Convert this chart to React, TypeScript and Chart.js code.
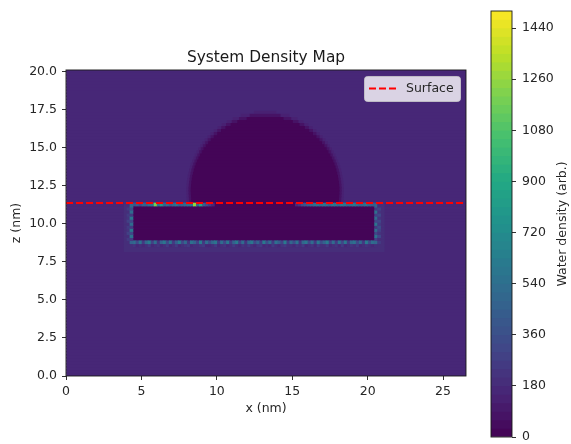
import React, { useEffect, useRef } from "react";
import { Chart, registerables } from "chart.js";

Chart.register(...registerables);
Chart.defaults.font.family = "'DejaVu Sans'";
Chart.defaults.color = "#262626";

const xLimit = 26.52;
const zLimit = 20.13;
const cellSize = 0.2;
const surfaceZ = 11.38;
const xTickStep = 5;
const zTickStep = 2.5;
const colorMax = 1500;
const colorTickStep = 180;
const legendLabel = "Surface";
const chartTitle = "System Density Map";
const xTitle = "x (nm)";
const zTitle = "z (nm)";
const colorTitle = "Water density (arb.)";

const colorLevels = [
  0, 30, 60, 90, 120, 150, 180, 210, 240, 270, 300, 330, 360, 390, 420, 450, 480, 510, 540, 570, 600, 630, 660, 690,
  720, 750, 780, 810, 840, 870, 900, 930, 960, 990, 1020, 1050, 1080, 1110, 1140, 1170, 1200, 1230, 1260, 1290, 1320,
  1350, 1380, 1410, 1440, 1470, 1500,
];

const viridisStops = [
  "#440154", "#482475", "#414487", "#355f8d", "#2a788e", "#21918c", "#22a884", "#44bf70", "#7ad151", "#bddf26", "#fde725",
];

// Bulk water, one value per z row from z = 0 upward.
const bulkRows = [
  155, 155, 155, 155, 155, 155, 155, 155, 155, 155, 155, 155, 155, 155, 155, 155, 155, 155, 155, 155, 155, 155, 155,
  155, 155, 155, 155, 155, 155, 155, 155, 155, 155, 155, 155, 155, 155, 155, 155, 155, 155, 155, 155, 155, 155, 155,
  155, 155, 155, 155, 155, 155, 155, 155, 155, 155, 155, 155, 155, 155, 155, 155, 155, 155, 155, 155, 155, 155, 155,
  155, 155, 155, 155, 155, 155, 155, 155, 155, 155, 155, 155, 155, 155, 155, 155, 155, 155, 155, 155, 155, 155, 155,
  155, 155, 155, 155, 155, 155, 155, 155, 155,
];

// Layer of water next to the slab.
const haloRows = [8.3, 8.5, 8.7, 8.9, 9.1, 9.3, 9.5, 9.7, 9.9, 10.1, 10.3, 10.5, 10.7, 10.9, 11.1, 11.3];
const haloFrom = 3.85;
const haloTo = 21.1;
const haloDensity = 185;

// Vapour bubble: half widths of the shells, one per z row from dropletFirstRow upward.
const dropletCentre = 13.2;
const dropletFirstRow = 11.1;
const dropletOuter = [
  5.09, 5.13, 5.16, 5.18, 5.19, 5.2, 5.2, 5.19, 5.17, 5.15, 5.11, 5.07, 5.02, 4.96, 4.9, 4.82, 4.73, 4.64, 4.53, 4.41,
  4.28, 4.14, 3.98, 3.8, 3.6, 3.38, 3.13, 2.85, 2.52, 2.12, 1.59, 0.72,
];
const dropletMiddle = [
  4.94, 4.98, 5.01, 5.03, 5.04, 5.05, 5.05, 5.04, 5.02, 4.99, 4.96, 4.92, 4.87, 4.81, 4.74, 4.66, 4.57, 4.47, 4.36,
  4.24, 4.1, 3.95, 3.78, 3.59, 3.38, 3.15, 2.88, 2.57, 2.19, 1.71, 1.0,
];
const dropletCore = [
  4.79, 4.83, 4.86, 4.88, 4.89, 4.9, 4.9, 4.89, 4.87, 4.84, 4.81, 4.76, 4.71, 4.65, 4.58, 4.5, 4.4, 4.3, 4.18, 4.06,
  3.91, 3.75, 3.58, 3.38, 3.15, 2.9, 2.61, 2.26, 1.82, 1.2,
];
const dropletOuterDensity = 125;
const dropletMiddleDensity = 80;
const dropletCoreDensity = 0;

// Solid slab.
const slabRows = [9.0, 9.2, 9.4, 9.6, 9.8, 10.0, 10.2, 10.4, 10.6, 10.8, 11.0, 11.13];
const slabFrom = 4.44;
const slabTo = 20.46;

// Adsorbed water cells round the slab.
const topRowZ = 11.28;
const topLeftFrom = 4.44;
const topLeft = [
  360, 430, 300, 470, 420, 520, 560, 1180, 540, 780, 470, 520, 400, 480, 540, 420, 470, 500, 520, 560, 1240, 500, 880,
  420, 340, 250, 170,
];
const topRightFrom = 15.2;
const topRight = [
  170, 230, 330, 380, 430, 470, 510, 540, 480, 560, 520, 470, 570, 540, 500, 620, 560, 480, 520, 570, 530, 470, 500,
  540, 470, 430, 390,
];
const bottomFrom = 4.44;
const bottomInnerZ = 8.8;
const bottomInner = [
  520, 300, 560, 240, 480, 620, 280, 520, 220, 460, 580, 300, 540, 260, 440, 600, 320, 500, 230, 560, 470, 280, 610,
  250, 520, 340, 480, 590, 240, 510, 300, 570, 260, 450, 620, 290, 530, 230, 490, 580, 310, 470, 250, 600, 330, 520,
  240, 560, 440, 290, 610, 260, 500, 340, 550, 230, 480, 590, 300, 520, 250, 570, 330, 460, 610, 280, 510, 240, 540,
  320, 590, 260, 480, 560, 300, 500, 240, 600, 350, 520, 460,
];
const bottomOuterZ = 8.6;
const bottomOuter = [
  220, 170, 200, 165, 190, 240, 170, 195, 230, 165, 185, 250, 170, 200, 255, 165, 180, 220, 240, 170, 195, 180, 230,
  255, 170, 165, 200, 240, 170, 190, 220, 165, 185, 250, 200, 170, 210, 180, 240, 195, 165, 220, 255, 170, 195, 170,
  240, 190, 165, 220, 250, 180, 200, 170, 220, 185, 255, 170, 190, 220, 165, 240, 185, 200, 250, 170, 195, 220, 170,
  240, 165, 195, 220, 180, 250, 170, 190, 230, 180, 165, 200,
];
const sideRows = [8.8, 9.0, 9.2, 9.4, 9.6, 9.8, 10.0, 10.2, 10.4, 10.6, 10.8, 11.0, 11.2];
const leftOuterX = 4.04;
const leftOuter = [190, 240, 200, 270, 210, 250, 190, 280, 220, 260, 200, 240, 190];
const leftInnerX = 4.24;
const leftInner = [470, 260, 560, 300, 590, 250, 520, 310, 570, 240, 510, 330, 480];
const rightInnerX = 20.46;
const rightInner = [490, 280, 560, 310, 510, 250, 590, 320, 530, 290, 550, 260, 460];
const rightOuterX = 20.66;
const rightOuter = [260, 200, 310, 230, 280, 340, 240, 300, 210, 320, 230, 280, 200];

function hexToRgb(h: string) {
  return [parseInt(h.slice(1, 3), 16), parseInt(h.slice(3, 5), 16), parseInt(h.slice(5, 7), 16)];
}

function viridis(t: number) {
  const p = Math.max(0, Math.min(1, t)) * (viridisStops.length - 1);
  const i = Math.min(Math.floor(p), viridisStops.length - 2);
  const a = hexToRgb(viridisStops[i]);
  const b = hexToRgb(viridisStops[i + 1]);
  const f = p - i;
  return `rgb(${a.map((c, k) => Math.round(c + (b[k] - c) * f)).join(",")})`;
}

function bandColor(v: number) {
  const step = colorLevels[1] - colorLevels[0];
  const lower = Math.min(Math.floor(v / step), colorLevels.length - 2);
  return viridis((lower + 0.5) / (colorLevels.length - 1));
}

type Cell = { x: [number, number]; y: number; v: number };

function buildFieldCells(): Cell[] {
  const cells: Cell[] = [];
  const half = cellSize / 2;
  bulkRows.forEach((v, i) => cells.push({ x: [0, xLimit], y: i * cellSize + half, v }));
  haloRows.forEach((y) => cells.push({ x: [haloFrom, haloTo], y, v: haloDensity }));
  const shell = (widths: number[], v: number) =>
    widths.forEach((w, i) =>
      cells.push({ x: [dropletCentre - w, dropletCentre + w], y: dropletFirstRow + i * cellSize, v })
    );
  shell(dropletOuter, dropletOuterDensity);
  shell(dropletMiddle, dropletMiddleDensity);
  shell(dropletCore, dropletCoreDensity);
  return cells;
}

function buildSlabCells(): Cell[] {
  const cells: Cell[] = [];
  slabRows.forEach((y) => cells.push({ x: [slabFrom, slabTo], y, v: 0 }));
  const hRun = (vals: number[], from: number, y: number) =>
    vals.forEach((v, i) => cells.push({ x: [from + i * cellSize, from + (i + 1) * cellSize], y, v }));
  const vRun = (vals: number[], x: number) =>
    vals.forEach((v, i) => cells.push({ x: [x, x + cellSize], y: sideRows[i], v }));
  hRun(bottomOuter, bottomFrom, bottomOuterZ);
  hRun(bottomInner, bottomFrom, bottomInnerZ);
  hRun(topLeft, topLeftFrom, topRowZ);
  hRun(topRight, topRightFrom, topRowZ);
  vRun(leftOuter, leftOuterX);
  vRun(leftInner, leftInnerX);
  vRun(rightInner, rightInnerX);
  vRun(rightOuter, rightOuterX);
  return cells;
}

const framePlugin = {
  id: "frame",
  afterDatasetsDraw(chart: any) {
    const { ctx, chartArea: a } = chart;
    ctx.save();
    ctx.strokeStyle = "#1a1a1a";
    ctx.lineWidth = 0.9;
    ctx.strokeRect(a.left, a.top, a.right - a.left, a.bottom - a.top);
    ctx.restore();
  },
};

const legendPlugin = {
  id: "insetLegend",
  afterDatasetsDraw(chart: any) {
    const { ctx, chartArea: a } = chart;
    const w = 96;
    const h = 25;
    const x = a.right - 6 - w;
    const y = a.top + 6;
    ctx.save();
    ctx.beginPath();
    ctx.roundRect(x + 0.5, y + 0.5, w, h, 3);
    ctx.fillStyle = "rgba(255,255,255,0.8)";
    ctx.fill();
    ctx.strokeStyle = "rgba(204,204,204,0.8)";
    ctx.lineWidth = 1;
    ctx.stroke();
    ctx.beginPath();
    ctx.setLineDash([7, 3]);
    ctx.strokeStyle = "#ff0000";
    ctx.lineWidth = 1.85;
    ctx.moveTo(x + 5, y + 12.5);
    ctx.lineTo(x + 32, y + 12.5);
    ctx.stroke();
    ctx.setLineDash([]);
    ctx.fillStyle = "#262626";
    ctx.font = "12.5px 'DejaVu Sans'";
    ctx.textBaseline = "middle";
    ctx.textAlign = "left";
    ctx.fillText(legendLabel, x + 42, y + 12.5);
    ctx.restore();
  },
};

const colorTitlePlugin = {
  id: "colorTitle",
  afterDraw(chart: any) {
    const { ctx, chartArea: a } = chart;
    ctx.save();
    ctx.translate(563, (a.top + a.bottom) / 2);
    ctx.rotate(-Math.PI / 2);
    ctx.font = "12.5px 'DejaVu Sans'";
    ctx.fillStyle = "#262626";
    ctx.textAlign = "center";
    ctx.textBaseline = "middle";
    ctx.fillText(colorTitle, 0, 0);
    ctx.restore();
  },
};

const tickFont = { size: 12.5 };
const axisGrid = { drawOnChartArea: false, drawTicks: true, tickLength: 4, tickColor: "#1a1a1a", tickWidth: 0.9, offset: false };

export default function App() {
  const mainRef = useRef<HTMLCanvasElement>(null);
  const barRef = useRef<HTMLCanvasElement>(null);

  useEffect(() => {
    const fieldCells = buildFieldCells();
    const slabCells = buildSlabCells();
    const main = new Chart(mainRef.current!, {
      type: "bar",
      data: {
        datasets: [
          {
            type: "line",
            label: legendLabel,
            order: 0,
            data: [
              { x: 0, y: surfaceZ },
              { x: xLimit, y: surfaceZ },
            ],
            borderColor: "#ff0000",
            borderWidth: 1.85,
            borderDash: [7, 3],
            pointRadius: 0,
          } as any,
          {
            type: "bar",
            label: "Slab shell",
            order: 1,
            indexAxis: "y",
            grouped: false,
            barThickness: 3.04,
            borderWidth: 0,
            data: slabCells as any,
            backgroundColor: slabCells.map((c) => bandColor(c.v)),
          } as any,
          {
            type: "bar",
            label: "Density",
            order: 2,
            indexAxis: "y",
            grouped: false,
            barThickness: 3.7,
            borderWidth: 0,
            data: fieldCells as any,
            backgroundColor: fieldCells.map((c) => bandColor(c.v)),
          } as any,
        ],
      },
      options: {
        animation: false,
        responsive: false,
        layout: { padding: { right: 105, left: 0, top: 0, bottom: 0 } },
        plugins: {
          legend: { display: false },
          tooltip: { enabled: false },
          title: {
            display: true,
            text: chartTitle,
            fullSize: false,
            color: "#1a1a1a",
            font: { size: 15.4, weight: "normal" },
            padding: { top: 48.8, bottom: 2.7 },
          },
        },
        scales: {
          x: {
            type: "linear",
            min: 0,
            max: xLimit,
            offset: false,
            grid: axisGrid,
            border: { display: false },
            ticks: { stepSize: xTickStep, includeBounds: false, font: tickFont, maxRotation: 0, padding: 4 },
            title: { display: true, text: xTitle, font: tickFont, padding: { top: 0, bottom: 28 } },
            afterFit(s: any) {
              s.height = 68;
            },
          },
          y: {
            type: "linear",
            min: 0,
            max: zLimit,
            offset: false,
            grid: axisGrid,
            border: { display: false },
            ticks: {
              stepSize: zTickStep,
              includeBounds: false,
              font: tickFont,
              padding: 5,
              callback: (v: any) => Number(v).toFixed(1),
            },
            title: { display: true, text: zTitle, font: tickFont, padding: { top: 9, bottom: 0 } },
            afterFit(s: any) {
              s.width = 66;
            },
          },
        },
      } as any,
      plugins: [framePlugin, legendPlugin],
    });

    const levelCells = colorLevels.slice(0, -1).map((lo, i) => ({ x: 0.5, y: [lo, colorLevels[i + 1] + 1] }));
    const bar = new Chart(barRef.current!, {
      type: "bar",
      data: {
        datasets: [
          {
            label: colorTitle,
            data: levelCells as any,
            grouped: false,
            barThickness: 21,
            borderWidth: 0,
            backgroundColor: levelCells.map((c) => bandColor(c.y[0])),
          } as any,
        ],
      },
      options: {
        animation: false,
        responsive: false,
        layout: { padding: { left: 491, right: 0, top: 11, bottom: 7 } },
        plugins: { legend: { display: false }, tooltip: { enabled: false } },
        scales: {
          x: { type: "linear", min: 0, max: 1, display: false, offset: false, grid: { offset: false } },
          y: {
            type: "linear",
            position: "right",
            min: 0,
            max: colorMax,
            offset: false,
            grid: axisGrid,
            border: { display: false },
            ticks: {
              stepSize: colorTickStep,
              includeBounds: false,
              font: tickFont,
              padding: 6,
              callback: (v: any) => String(v),
            },
            afterFit(s: any) {
              s.width = 59;
              s.paddingTop = 0;
              s.paddingBottom = 0;
            },
          },
        },
      } as any,
      plugins: [framePlugin, colorTitlePlugin],
    });

    return () => {
      main.destroy();
      bar.destroy();
    };
  }, []);

  const layer: React.CSSProperties = { position: "fixed", left: 0, top: 0, width: 571, height: 444 };
  return (
    <div>
      <canvas ref={mainRef} width={571} height={444} style={layer} />
      <canvas ref={barRef} width={571} height={444} style={{ ...layer, pointerEvents: "none" }} />
    </div>
  );
}
